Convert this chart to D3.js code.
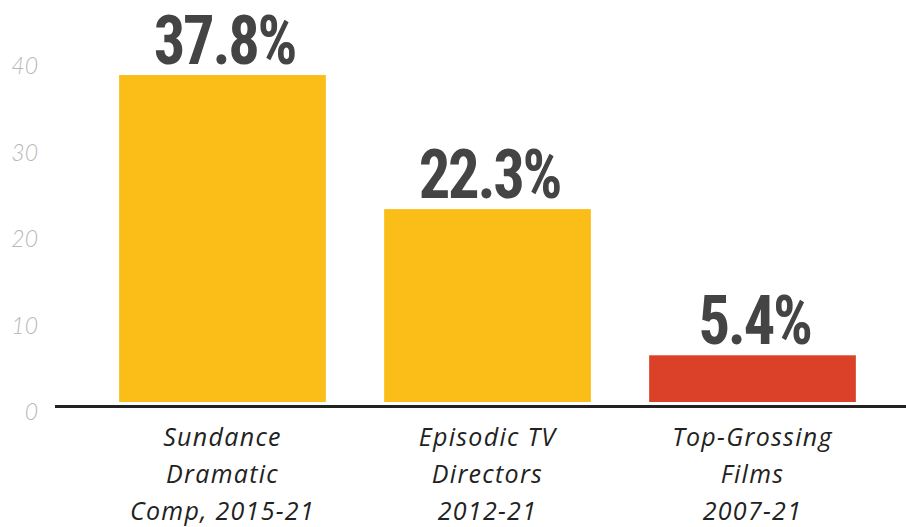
<!DOCTYPE html>
<html>
<head>
<meta charset="utf-8">
<script src="https://cdn.jsdelivr.net/npm/d3@7"></script>
<style>
  body { margin: 0; background: #fff; }
  svg { display: block; }
</style>
</head>
<body>
<svg id="chart" width="906" height="527"></svg>
<script>
// data
var categories = ["Sundance Dramatic Comp, 2015-21", "Episodic TV Directors 2012-21", "Top-Grossing Films 2007-21"];
var categoryLines = [["Sundance", "Dramatic", "Comp, 2015-21"], ["Episodic TV", "Directors", "2012-21"], ["Top-Grossing", "Films", "2007-21"]];
var values = [37.8, 22.3, 5.4];
var barColors = ["#fbbe18", "#fbbe18", "#db4128"];
var yTicks = [0, 10, 20, 30, 40];

var svg = d3.select("#chart");

var xScale = d3.scaleBand()
    .domain(categories)
    .range([90, 885])
    .paddingInner(0.22)
    .paddingOuter(0.11);

var yScale = d3.scaleLinear()
    .domain([0, 40])
    .range([402, 56]);

// y tick labels (no tick lines, just the numbers)
svg.append("g")
    .selectAll("text")
    .data(yTicks)
    .enter()
    .append("text")
    .attr("x", 38)
    .attr("y", function (d) { return yScale(d) + 10; })
    .attr("dy", "0.35em")
    .attr("text-anchor", "end")
    .style("font-family", "Lato, 'Open Sans', sans-serif")
    .style("font-weight", 300)
    .style("font-style", "italic")
    .style("font-size", "23px")
    .style("fill", "#b8b8b8")
    .text(function (d) { return d; });

// bars
svg.append("g")
    .selectAll("rect")
    .data(values)
    .enter()
    .append("rect")
    .attr("x", function (d, i) { return xScale(categories[i]); })
    .attr("y", function (d) { return yScale(d); })
    .attr("width", xScale.bandwidth())
    .attr("height", function (d) { return yScale(0) - yScale(d); })
    .attr("fill", function (d, i) { return barColors[i]; });

// baseline
svg.append("line")
    .attr("x1", 55)
    .attr("x2", 906)
    .attr("y1", yScale(0) + 4.5)
    .attr("y2", yScale(0) + 4.5)
    .attr("stroke", "#222")
    .attr("stroke-width", 3);

// value labels
svg.append("g")
    .selectAll("text")
    .data(values)
    .enter()
    .append("text")
    .attr("transform", function (d, i) {
        var cx = xScale(categories[i]) + xScale.bandwidth() / 2 + 2;
        return "translate(" + cx + "," + (yScale(d) - 11) + ") scale(0.92,1)";
    })
    .attr("text-anchor", "middle")
    .style("font-family", "'Liberation Sans Narrow', 'Roboto Condensed', 'DejaVu Sans Condensed', sans-serif")
    .style("font-stretch", "condensed")
    .style("font-weight", 700)
    .style("font-size", "68px")
    .style("letter-spacing", "-2.5px")
    .style("fill", "#444")
    .text(function (d) { return d.toFixed(1) + "%"; });

// category labels
var catGroup = svg.append("g")
    .selectAll("text")
    .data(categories)
    .enter()
    .append("text")
    .attr("text-anchor", "middle")
    .style("font-family", "'Open Sans', sans-serif")
    .style("font-style", "italic")
    .style("font-size", "25px")
    .style("letter-spacing", "1.3px")
    .style("fill", "#222");

catGroup.selectAll("tspan")
    .data(function (d, i) {
        return categoryLines[i].map(function (t) { return { t: t, c: d }; });
    })
    .enter()
    .append("tspan")
    .attr("x", function (d) { return xScale(d.c) + xScale.bandwidth() / 2; })
    .attr("y", function (d, j) { return 446 + j * 37; })
    .text(function (d) { return d.t; });
</script>
</body>
</html>
